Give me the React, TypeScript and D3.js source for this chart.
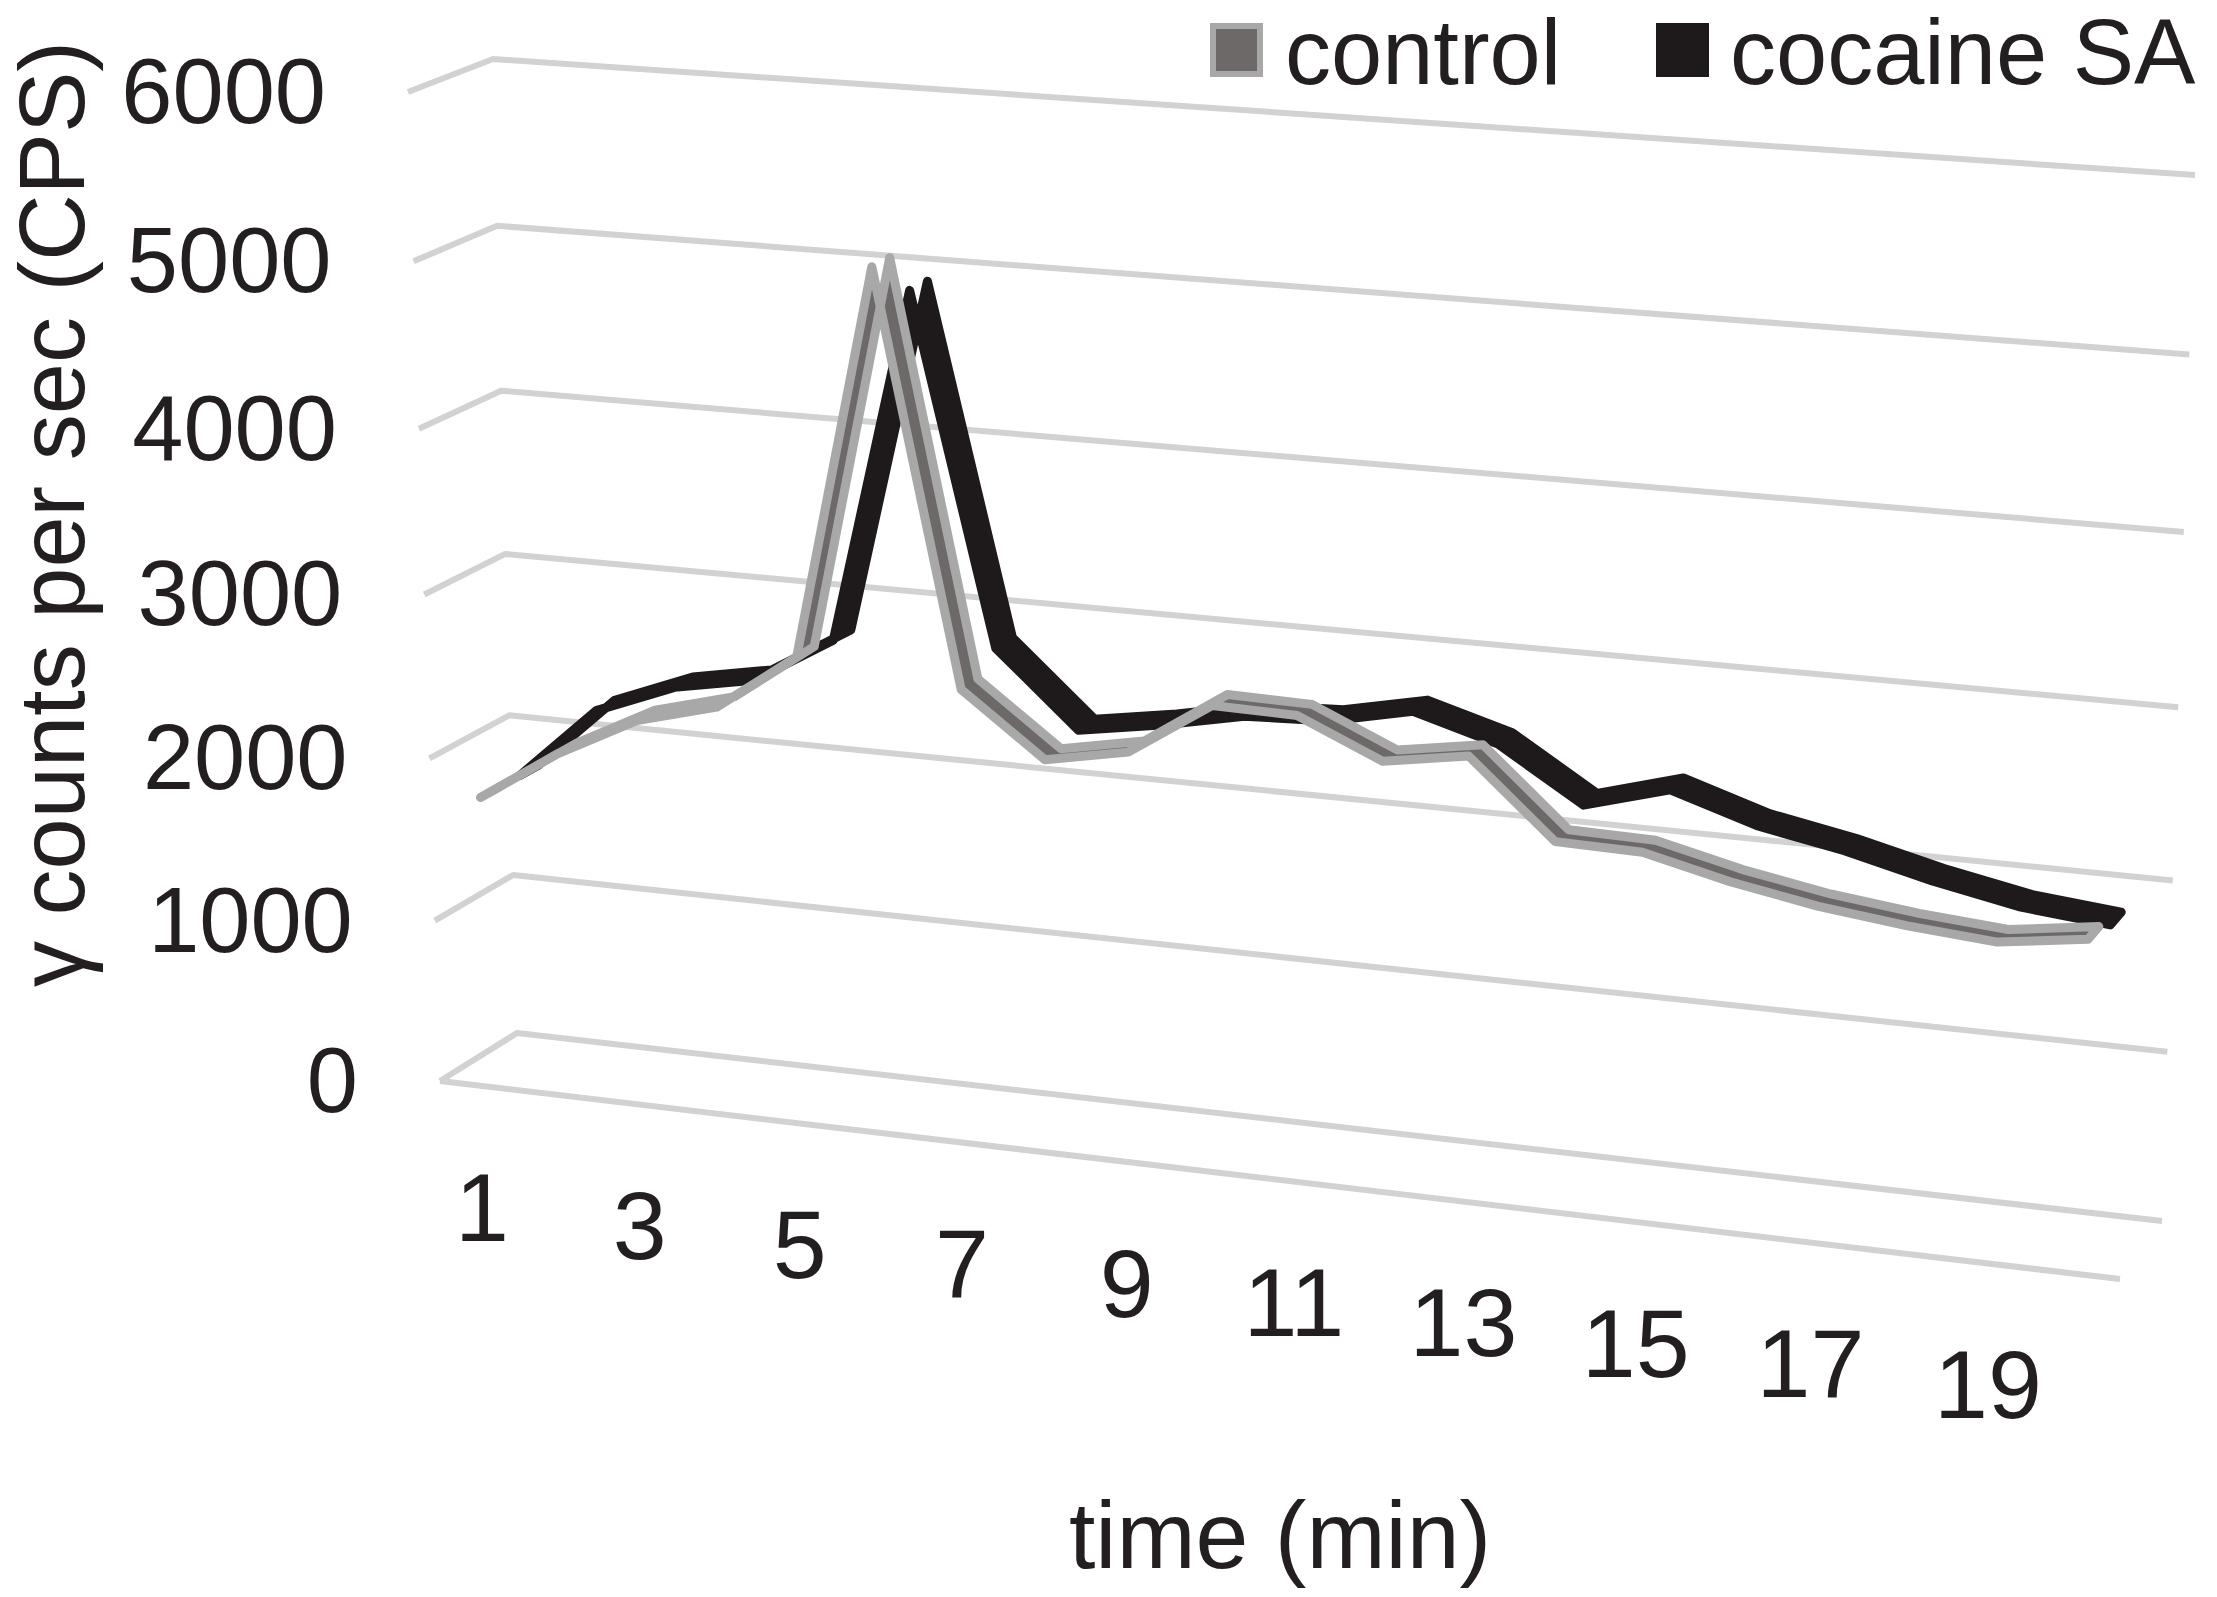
import * as d3 from "d3";

// minutes after injection
const times = [1, 2, 3, 4, 5, 6, 7, 8, 9, 10, 11, 12, 13, 14, 15, 16, 17, 18, 19, 20];
const controlCps = [1750, 2070, 2320, 2450, 2800, 5150, 2700, 2330, 2425, 2750, 2740, 2520, 2600, 2150, 2140, 2020, 1930, 1870, 1830, 1900];
const cocaineCps = [1750, 2200, 2390, 2480, 2770, 4900, 2815, 2370, 2450, 2550, 2570, 2675, 2530, 2220, 2360, 2200, 2105, 1980, 1880, 1830];
const yTicks = [0, 1000, 2000, 3000, 4000, 5000, 6000];
const xTickLabels = times.filter((t) => t % 2 === 1);
const seriesNames = ["control", "cocaine SA"];

const W = 2217;
const H = 1597;
const FONT = "'Liberation Sans', Arial, sans-serif";
const INK = "#231f20";
const GRID = "#d2d2d2";

// corners of the back wall and of the front plane: (0,0) (1,0) (1,1) (0,1)
const backQuad: [number, number][] = [[517, 1033], [2162, 1221], [2195, 175], [493, 59]];
const frontQuad: [number, number][] = [[440, 1081], [2120, 1279], [2145, 218], [408, 92]];

function quadMap(q: [number, number][]) {
  const [x0, y0] = q[0], [x1, y1] = q[1], [x2, y2] = q[2], [x3, y3] = q[3];
  const dx1 = x1 - x2, dx2 = x3 - x2, dx3 = x0 - x1 + x2 - x3;
  const dy1 = y1 - y2, dy2 = y3 - y2, dy3 = y0 - y1 + y2 - y3;
  const den = dx1 * dy2 - dx2 * dy1;
  const g = (dx3 * dy2 - dx2 * dy3) / den;
  const h = (dx1 * dy3 - dx3 * dy1) / den;
  const a = x1 - x0 + g * x1, b = x3 - x0 + h * x3, c = x0;
  const d = y1 - y0 + g * y1, e = y3 - y0 + h * y3, f = y0;
  return (u: number, v: number): [number, number] => {
    const z = g * u + h * v + 1;
    return [(a * u + b * v + c) / z, (d * u + e * v + f) / z];
  };
}

const back = quadMap(backQuad);
const front = quadMap(frontQuad);

function at(uu: number, vv: number, w: number): [number, number] {
  const [bx, by] = back(uu, vv);
  const [fx, fy] = front(uu, vv);
  return [bx + (fx - bx) * w, by + (fy - by) * w];
}

export default function App() {
  const u = d3.scaleLinear().domain([-0.5, times.length - 0.5]).range([0, 1]);
  const v = d3.scaleLinear().domain([0, 6000]).range([0, 1]);
  const line = d3.line();

  const ribbon = (vals: number[], wc: number) => {
    const hw = 0.12;
    const a = vals.map((d, i) => at(u(i), v(d), wc + hw));
    const b = vals.map((d, i) => at(u(i), v(d), wc - hw)).reverse();
    return line([...a, ...b]) + "Z";
  };

  return (
    <svg width={W} height={H} style={{ position: "absolute", left: 0, top: 0, background: "#fff" }}>
      {/* gridlines: side wall + back wall */}
      {yTicks.map((t) => (
        <path
          key={t}
          d={line([at(0, v(t), 1), at(0, v(t), 0), at(1, v(t), 0)]) || ""}
          fill="none"
          stroke={GRID}
          strokeWidth={6}
          strokeLinejoin="round"
        />
      ))}
      <path d={line([at(0, 0, 1), at(1, 0, 1)]) || ""} stroke={GRID} strokeWidth={6} fill="none" />

      {/* y tick labels */}
      {yTicks.map((t) => {
        const [x, y] = at(0, v(t), 1);
        return (
          <text key={t} x={x - 82} y={y + 31} textAnchor="end" fontFamily={FONT} fontSize={92} fill={INK}>
            {t}
          </text>
        );
      })}

      {/* x tick labels */}
      {xTickLabels.map((t) => {
        const [x, y] = at(u(times.indexOf(t)), 0, 1);
        return (
          <text key={t} x={x + 3} y={y + 155} textAnchor="middle" fontFamily={FONT} fontSize={97} fill={INK}>
            {t}
          </text>
        );
      })}

      {/* series ribbons, back one first */}
      <path d={ribbon(cocaineCps, 0.25)} fill="#1e1a1b" stroke="#1e1a1b" strokeWidth={9} strokeLinejoin="round" />
      <path d={ribbon(controlCps, 0.75)} fill="#6e6969" stroke="#a8a8a8" strokeWidth={9} strokeLinejoin="round" />

      {/* axis titles */}
      <text
        transform="translate(84,514) rotate(-90)"
        textAnchor="middle"
        fontFamily={FONT}
        fontSize={92}
        fill={INK}
      >
        γ counts per sec (CPS)
      </text>
      <text x={1280} y={1568} textAnchor="middle" fontFamily={FONT} fontSize={95} fill={INK}>
        time (min)
      </text>

      {/* legend */}
      <rect x={1213} y={26} width={47} height={48} fill="#6e6969" stroke="#a8a8a8" strokeWidth={6} />
      <text x={1285} y={84} fontFamily={FONT} fontSize={92} fill={INK}>
        {seriesNames[0]}
      </text>
      <rect x={1656} y={23} width={53} height={54} fill="#1e1a1b" />
      <text x={1730} y={84} fontFamily={FONT} fontSize={92} fill={INK}>
        {seriesNames[1]}
      </text>
    </svg>
  );
}
